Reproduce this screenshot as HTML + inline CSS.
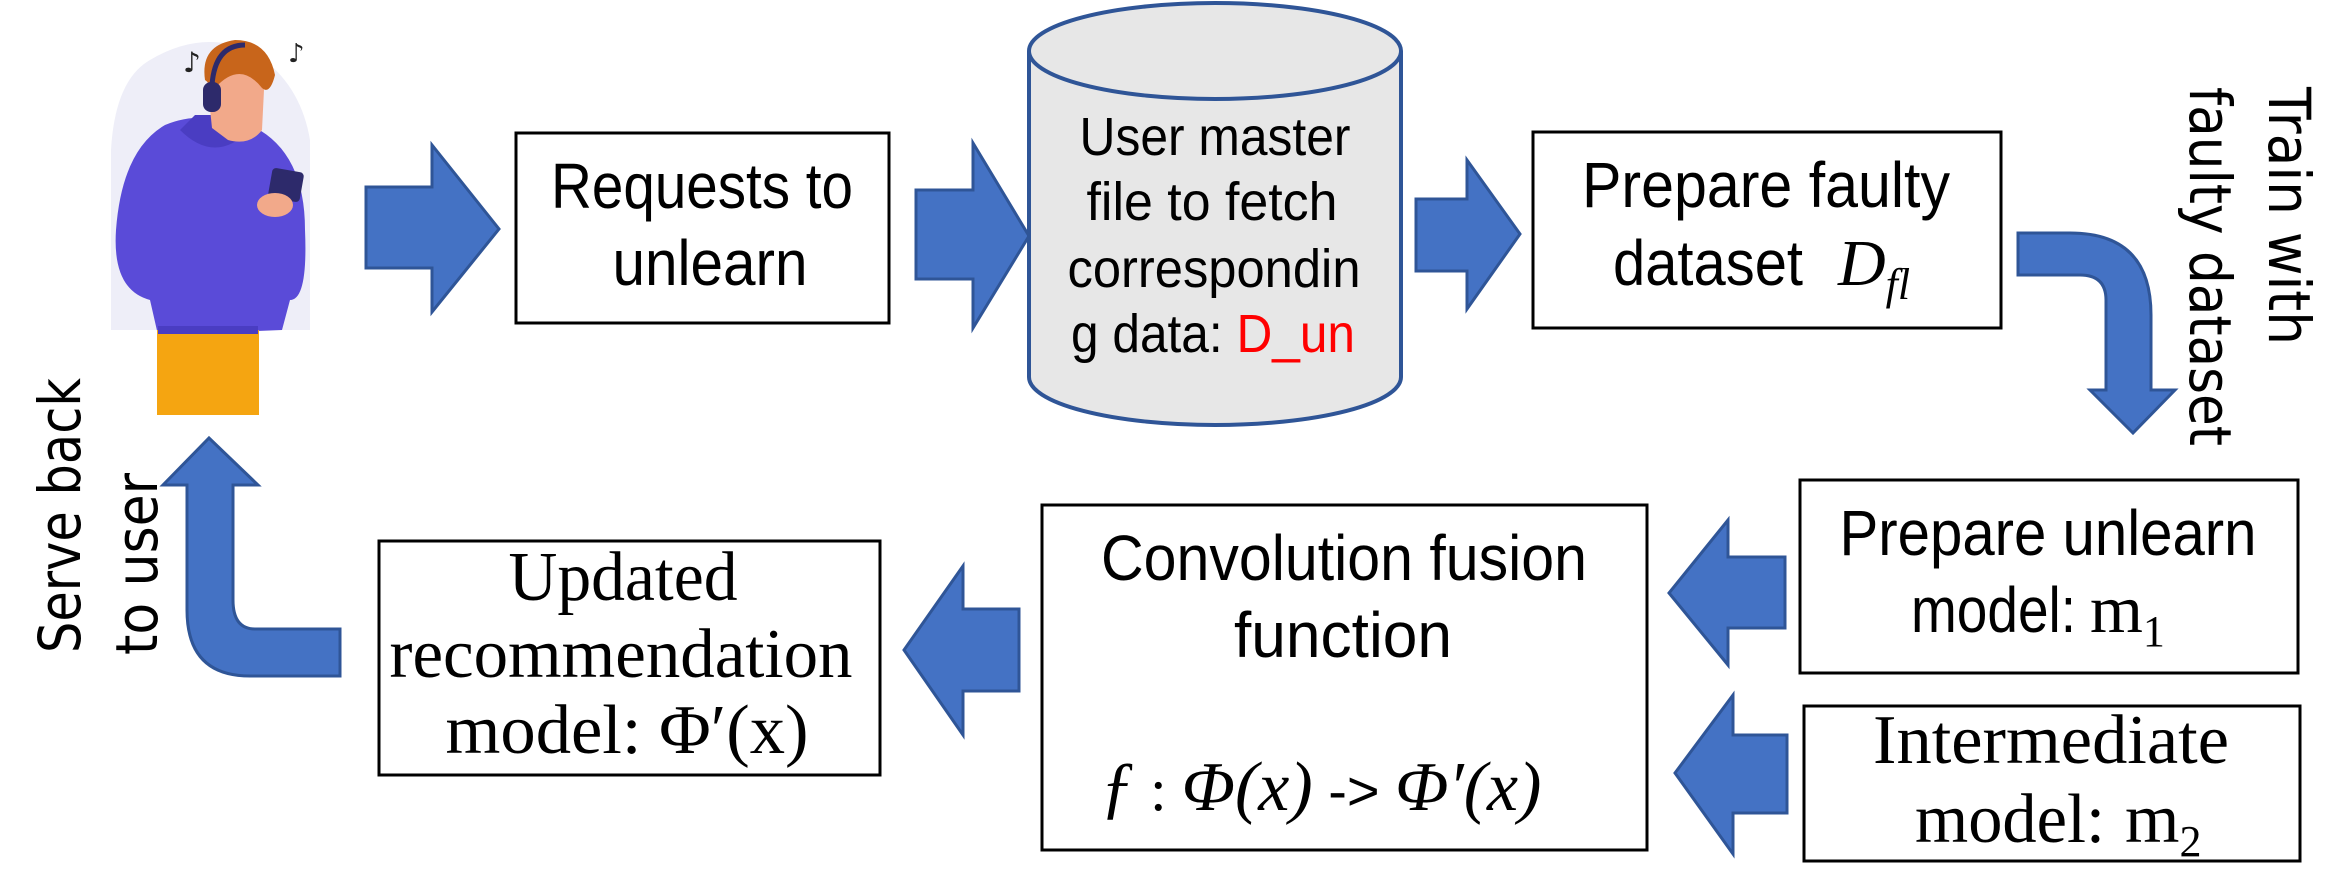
<!DOCTYPE html>
<html><head><meta charset="utf-8"><style>html,body{margin:0;padding:0;background:#fff}svg{display:block}</style></head>
<body>
<svg width="2346" height="875" viewBox="0 0 2346 875" xmlns="http://www.w3.org/2000/svg">
<g fill="#4472c4" stroke="#2f5597" stroke-width="3" stroke-linejoin="miter">
<polygon points="366,187 432,187 432,145 499,229 432,312 432,268 366,268"/>
<polygon points="916,190 973,190 973,143 1029,236 973,328 973,279 916,279"/>
<polygon points="1416,199 1467,199 1467,160 1520,234 1467,309 1467,271 1416,271"/>
<path d="M2018,233 L2070,233 Q2151,233 2151,315 L2151,390 L2175,390 L2133,433 L2090,390 L2106,390 L2106,300 Q2106,275 2080,275 L2018,275 Z"/>
<polygon points="1019,609 963,609 963,566 904,650 963,735 963,691 1019,691"/>
<polygon points="1785,557 1728,557 1728,520 1669,593 1728,665 1728,628 1785,628"/>
<polygon points="1787,735 1733,735 1733,695 1675,773 1733,854 1733,813 1787,813"/>
<path d="M340,629 L255,629 Q233,629 233,600 L233,485 L258,485 L209,438 L163,485 L187,485 L187,610 Q187,676 250,676 L340,676 Z"/>
</g>
<path d="M1029,51 L1029,377 A186,48 0 0 0 1401,377 L1401,51" fill="#e7e7e7" stroke="#2f5597" stroke-width="4"/>
<ellipse cx="1215" cy="51" rx="186" ry="48" fill="#e7e7e7" stroke="#2f5597" stroke-width="4"/>
<g fill="#fff" stroke="#000" stroke-width="3">
<rect x="516" y="133" width="373" height="190"/>
<rect x="1533" y="132" width="468" height="196"/>
<rect x="379" y="541" width="501" height="234"/>
<rect x="1042" y="505" width="605" height="345"/>
<rect x="1800" y="480" width="498" height="193"/>
<rect x="1804" y="706" width="496" height="155"/>
</g>
<!-- person -->
<g>
<path d="M150,60 Q200,30 250,50 Q300,80 310,140 L310,330 L111,330 L111,150 Q115,80 150,60 Z" fill="#eeeef8"/>
<path d="M165,125 Q200,110 250,125 Q305,150 305,230 Q308,300 290,300 L282,330 L158,335 L150,300 Q112,290 116,230 Q122,150 165,125 Z" fill="#5a4bd8"/>
<path d="M180,130 Q215,165 250,130 L245,115 L195,115 Z" fill="#4a3dc2"/>
<rect x="157" y="330" width="102" height="85" fill="#f5a511"/>
<rect x="158" y="326" width="100" height="8" fill="#4a3dc2"/>
<path d="M207,80 Q210,62 235,60 Q262,62 264,90 L262,130 Q250,146 228,140 L212,128 Z" fill="#f2a98a"/>
<path d="M205,80 Q200,45 235,40 Q268,40 275,75 Q270,95 262,88 Q240,60 215,88 Z" fill="#c8651b"/>
<rect x="203" y="82" width="18" height="30" rx="8" fill="#2d2a6b"/>
<path d="M212,85 Q215,45 245,45" fill="none" stroke="#2d2a6b" stroke-width="5"/>
<rect x="270" y="170" width="32" height="30" rx="4" fill="#2d2a6b" transform="rotate(10 286 185)"/>
<ellipse cx="275" cy="205" rx="18" ry="12" fill="#f2a98a"/>
<text x="183" y="72" font-family="DejaVu Sans" font-size="28" fill="#222">♪</text>
<text x="288" y="62" font-family="DejaVu Sans" font-size="26" fill="#222">♪</text>
</g>
<g font-family="Liberation Sans, sans-serif" font-size="64" fill="#000" text-anchor="middle">
<text x="702" y="208" textLength="302" lengthAdjust="spacingAndGlyphs">Requests to</text>
<text x="710" y="285" textLength="195" lengthAdjust="spacingAndGlyphs">unlearn</text>
<text x="1766" y="207" textLength="368" lengthAdjust="spacingAndGlyphs">Prepare faulty</text>
<text x="1344" y="580" textLength="486" lengthAdjust="spacingAndGlyphs">Convolution fusion</text>
<text x="1343" y="657" textLength="218" lengthAdjust="spacingAndGlyphs">function</text>
<text x="2048" y="555" textLength="417" lengthAdjust="spacingAndGlyphs">Prepare unlearn</text>
</g>
<g font-family="Liberation Sans, sans-serif" font-size="54" fill="#000" text-anchor="middle">
<text x="1215" y="155" textLength="271" lengthAdjust="spacingAndGlyphs">User master</text>
<text x="1212" y="220" textLength="251" lengthAdjust="spacingAndGlyphs">file to fetch</text>
<text x="1214" y="287" textLength="293" lengthAdjust="spacingAndGlyphs">correspondin</text>
<text x="1213" y="352" textLength="284" lengthAdjust="spacingAndGlyphs">g data: <tspan fill="#ff0000">D_un</tspan></text>
</g>
<g font-family="Liberation Sans, sans-serif" font-size="64" fill="#000">
<text x="1613" y="285" textLength="190" lengthAdjust="spacingAndGlyphs">dataset</text>
<text x="1838" y="285" font-family="Liberation Serif, serif" font-style="italic" font-size="66">D<tspan font-size="44" dy="14">fl</tspan></text>
<text x="1911" y="632" textLength="165" lengthAdjust="spacingAndGlyphs">model:</text>
<text x="2090" y="632" font-family="Liberation Serif, serif" font-size="68">m<tspan font-size="44" dy="14">1</tspan></text>
</g>
<g font-family="Liberation Serif, serif" font-size="70" fill="#000" text-anchor="middle">
<text x="623" y="600" textLength="229" lengthAdjust="spacingAndGlyphs">Updated</text>
<text x="621" y="677" textLength="463" lengthAdjust="spacingAndGlyphs">recommendation</text>
<text x="627" y="753" textLength="363" lengthAdjust="spacingAndGlyphs">model:  Φ′(x)</text>
<text x="2051" y="763" textLength="356" lengthAdjust="spacingAndGlyphs">Intermediate</text>
</g>
<g font-family="Liberation Serif, serif" font-size="70" fill="#000">
<text x="1915" y="842" textLength="190" lengthAdjust="spacingAndGlyphs">model:</text>
<text x="2125" y="842">m<tspan font-size="44" dy="14">2</tspan></text>
<text x="1100" y="810" font-style="italic" font-size="70">ƒ<tspan font-style="normal" font-size="60"> : </tspan>Φ(x)<tspan font-style="normal" font-family="Liberation Sans, sans-serif" font-size="56"> -&gt; </tspan>Φ′(x)</text>
</g>
<g font-family="DejaVu Sans, sans-serif" font-size="58" fill="#000">
<text transform="translate(2269,87) rotate(90)" textLength="258" lengthAdjust="spacingAndGlyphs">Train with</text>
<text transform="translate(2190,87) rotate(90)" textLength="359" lengthAdjust="spacingAndGlyphs">faulty dataset</text>
<text transform="translate(80,653) rotate(-90)" textLength="275" lengthAdjust="spacingAndGlyphs">Serve back</text>
<text transform="translate(157,655) rotate(-90)" textLength="182" lengthAdjust="spacingAndGlyphs">to user</text>
</g>
</svg>
</body></html>
